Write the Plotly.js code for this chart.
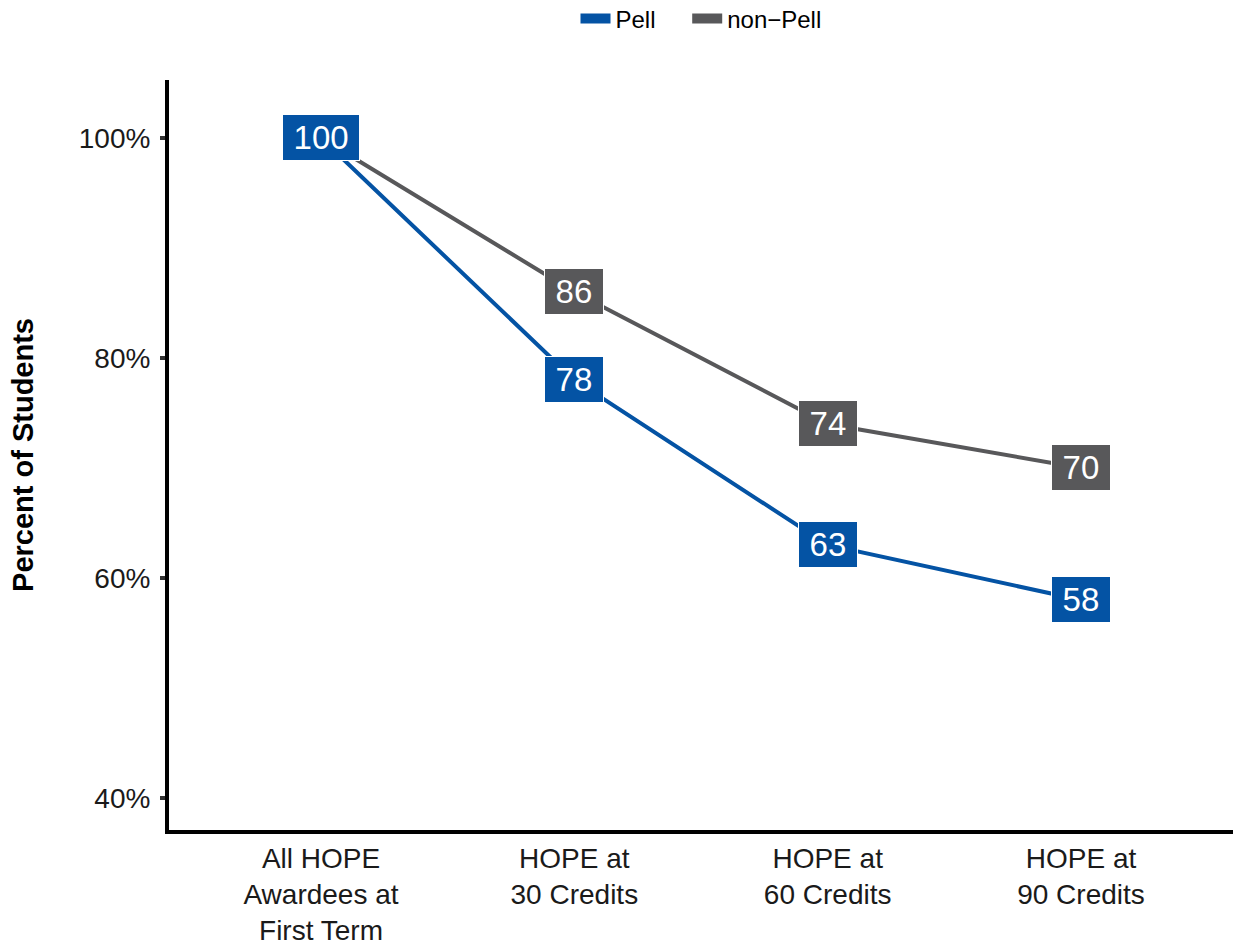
<!DOCTYPE html>
<html><head><meta charset="utf-8">
<script src="https://cdn.plot.ly/plotly-3.0.1.min.js"></script>
<style>html,body{margin:0;padding:0;background:#fff}</style></head>
<body><div id="chart" style="width:1238px;height:945px"></div>
<script>
const categories = ["All HOPE<br>Awardees at<br>First Term","HOPE at<br>30 Credits","HOPE at<br>60 Credits","HOPE at<br>90 Credits"];
const pell = [100, 78, 63, 58];
const nonPell = [100, 86, 74, 70];
const yTickVals = [40, 60, 80, 100];
const yTickText = ["40%", "60%", "80%", "100%"];
const seriesNames = ["Pell", "non\u2212Pell"];
const colors = {pell: "#0453A4", nonPell: "#58585A"};

const xPos = categories.map((c, i) => i + 1);
const font = "Liberation Sans, Arial, sans-serif";
const sp = "\u2009";
const legendPad = "\u00A0\u00A0\u00A0\u00A0";

const traces = [
  {x: xPos, y: nonPell, type: "scatter", mode: "lines", line: {color: colors.nonPell, width: 4}, showlegend: false, hoverinfo: "skip"},
  {x: xPos, y: pell, type: "scatter", mode: "lines", line: {color: colors.pell, width: 4}, showlegend: false, hoverinfo: "skip"},
  {x: [null], y: [null], type: "scatter", mode: "lines", name: seriesNames[0] + legendPad, line: {color: colors.pell, width: 16}},
  {x: [null], y: [null], type: "scatter", mode: "lines", name: seriesNames[1], line: {color: colors.nonPell, width: 16}}
];

function labels(vals, color) {
  return vals.map((v, i) => ({
    x: xPos[i], y: v, xref: "x", yref: "y", text: sp + v + sp, showarrow: false,
    font: {family: font, size: 33, color: "#ffffff"},
    bgcolor: color, bordercolor: "#ffffff", borderwidth: 1, borderpad: 4
  }));
}
const annotations = labels(nonPell, colors.nonPell).concat(labels(pell, colors.pell));

const layout = {
  width: 1238, height: 945,
  margin: {l: 169, r: 5, t: 80, b: 115},
  paper_bgcolor: "#fff", plot_bgcolor: "#fff",
  font: {family: font, size: 28, color: "#000"},
  showlegend: true,
  legend: {orientation: "h", x: 0.5, xanchor: "center", y: 0.98, yref: "container", yanchor: "middle",
           font: {family: font, size: 24, color: "#000"}, itemwidth: 30},
  xaxis: {range: [0.4, 4.6], tickvals: xPos, ticktext: categories, showgrid: false, zeroline: false,
          showline: true, linecolor: "#000", linewidth: 4, ticks: "", tickfont: {size: 28, color: "#1a1a1a"}},
  yaxis: {range: [37.09, 105.27], tickvals: yTickVals, ticktext: yTickText, showgrid: false, zeroline: false,
          showline: true, linecolor: "#000", linewidth: 4, ticks: "outside", ticklen: 5, tickwidth: 4, tickcolor: "#333333",
          tickfont: {size: 28, color: "#1a1a1a"}, ticklabelstandoff: 4,
          title: {text: "<b>Percent of Students</b>", font: {size: 29, color: "#000"}, standoff: 38}},
  annotations: annotations
};
Plotly.newPlot("chart", traces, layout, {displayModeBar: false, staticPlot: true});
</script></body></html>
